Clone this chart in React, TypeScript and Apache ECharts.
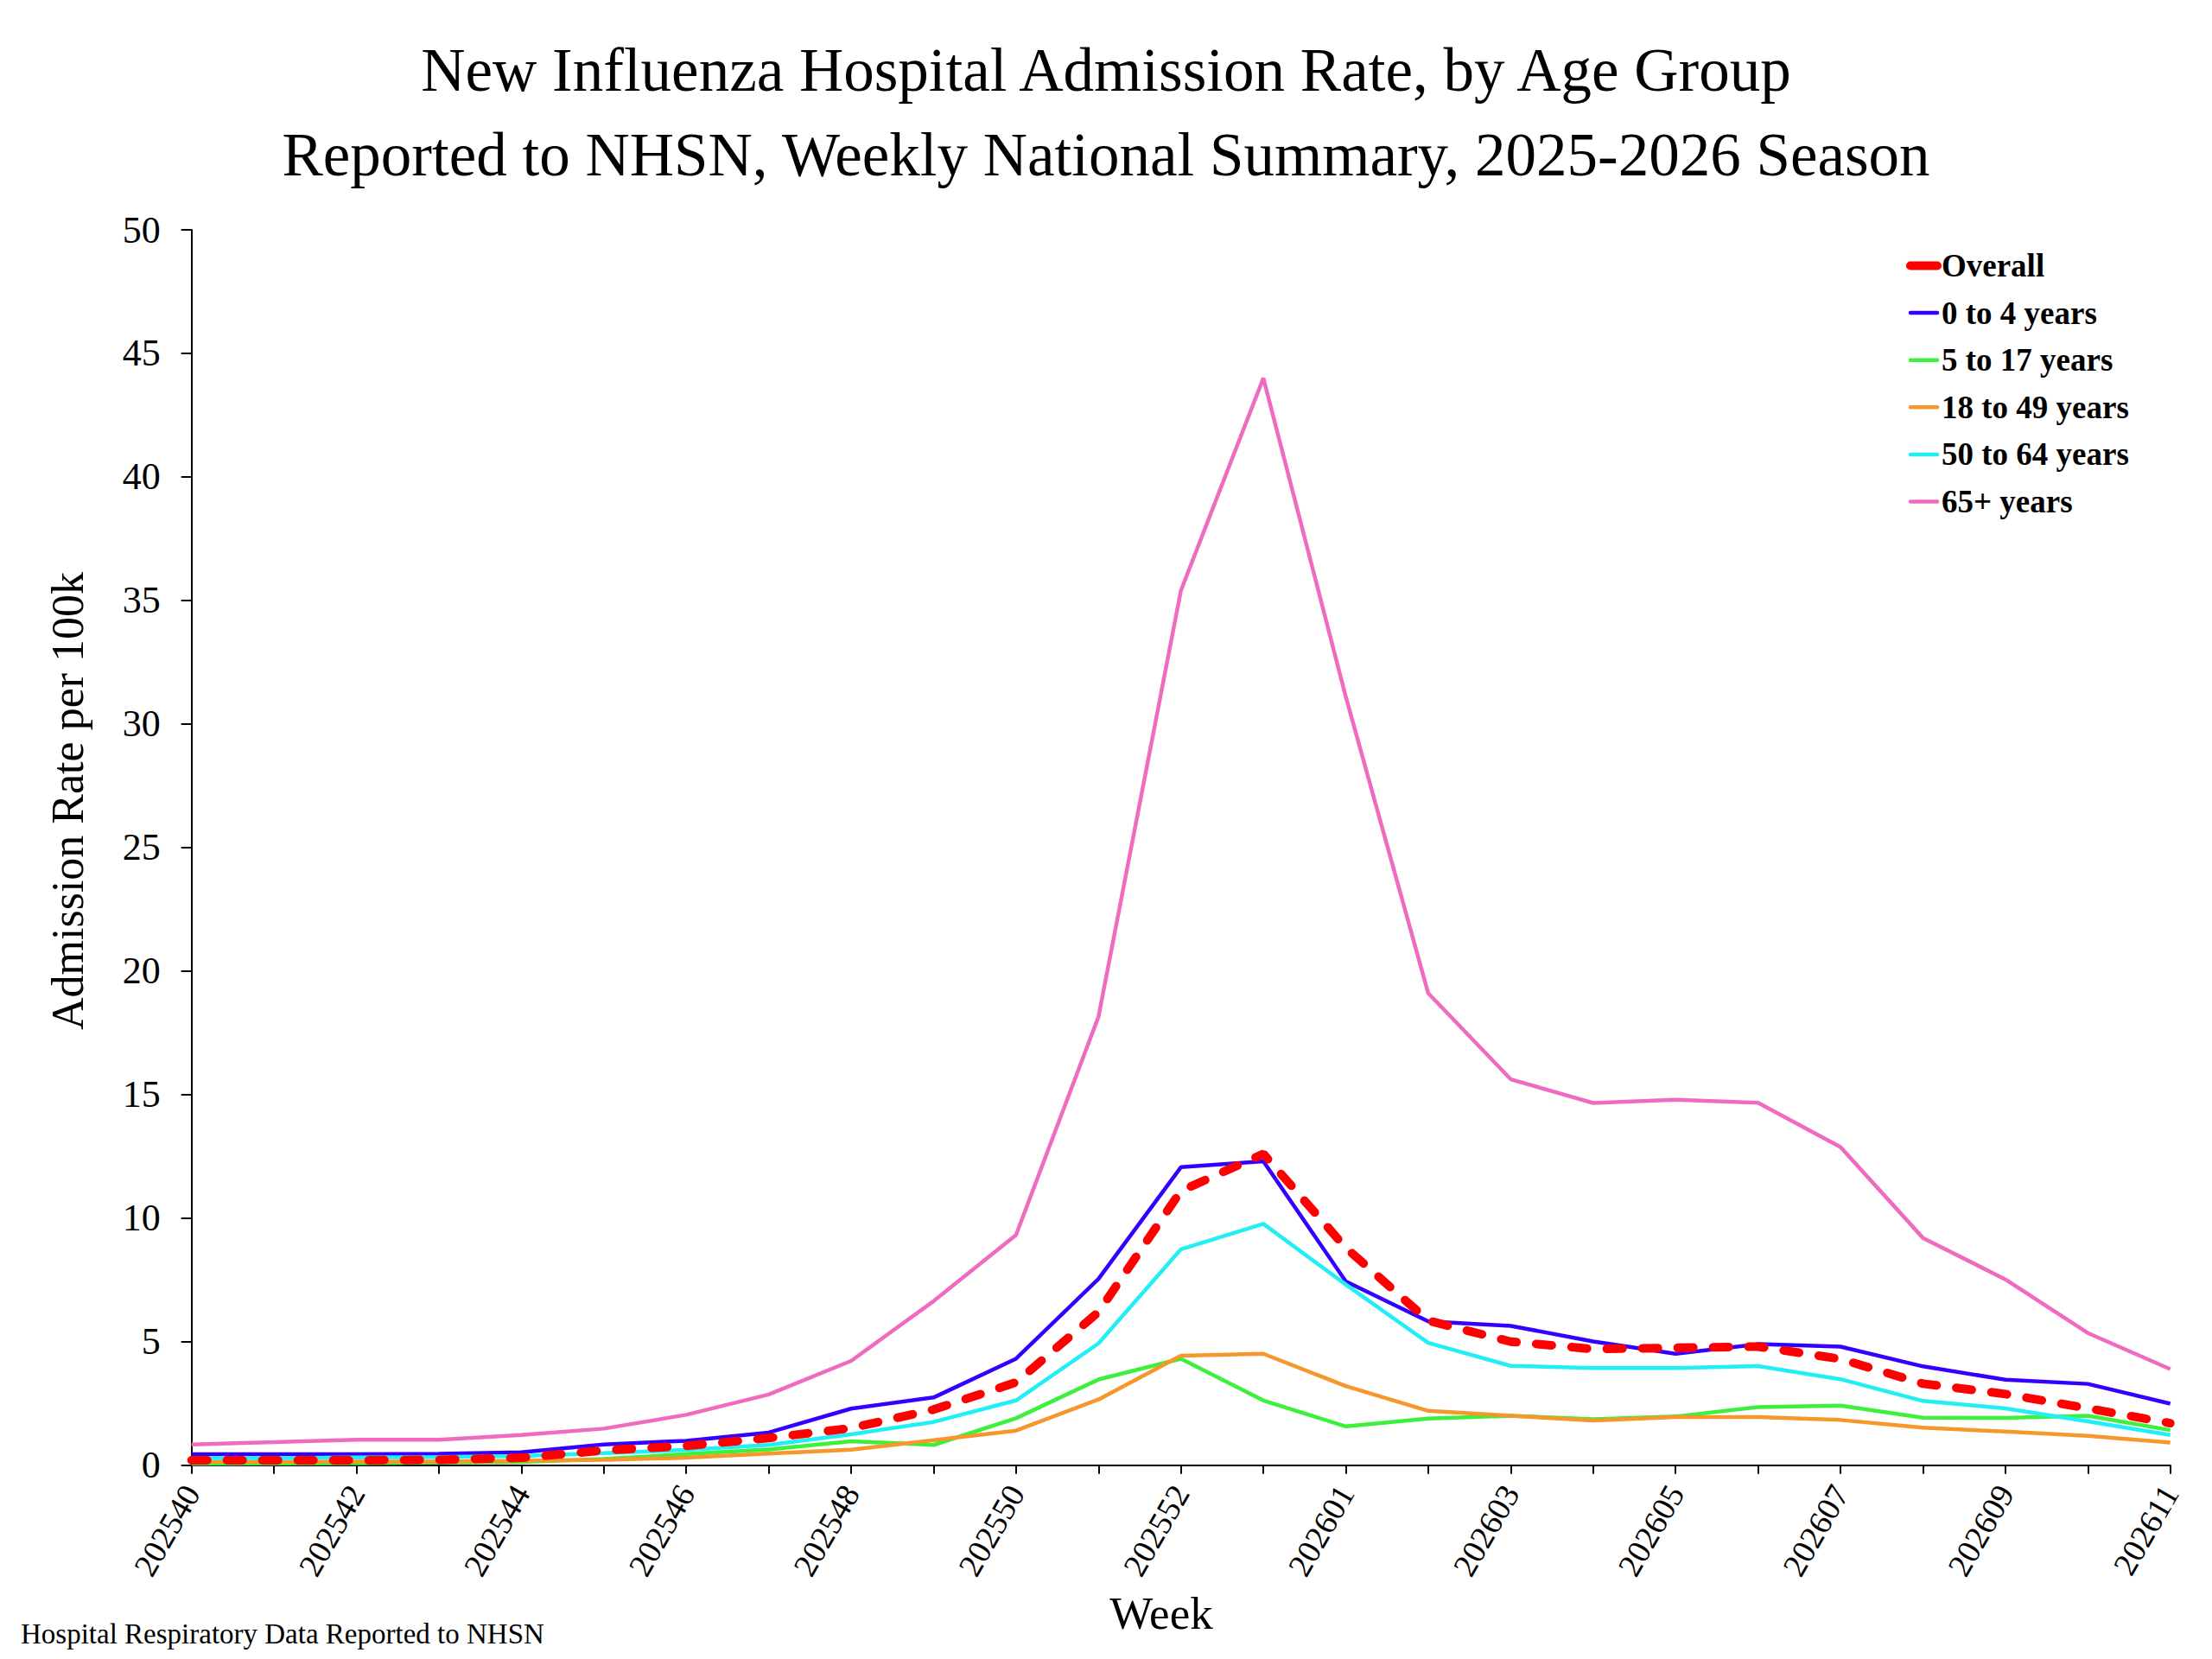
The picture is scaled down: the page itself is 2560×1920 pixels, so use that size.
import React, { useEffect, useRef } from 'react';
import * as echarts from 'echarts';

const weeks = [
  '202540', '202541', '202542', '202543', '202544', '202545', '202546', '202547', '202548', '202549',
  '202550', '202551', '202552', '202553', '202601', '202602', '202603', '202604', '202605', '202606',
  '202607', '202608', '202609', '202610', '202611',
];

const overall = [0.2, 0.2, 0.2, 0.22, 0.3, 0.6, 0.78, 1.1, 1.5, 2.25, 3.35, 6.2, 11.1, 12.6, 8.8, 5.85, 5.0, 4.7, 4.75, 4.8, 4.3, 3.3, 2.88, 2.3, 1.7];
const age0to4 = [0.44, 0.44, 0.44, 0.46, 0.52, 0.84, 0.99, 1.32, 2.29, 2.74, 4.31, 7.54, 12.06, 12.3, 7.44, 5.82, 5.64, 5.01, 4.51, 4.9, 4.8, 4.0, 3.46, 3.29, 2.49];
const age5to17 = [0.06, 0.07, 0.08, 0.1, 0.13, 0.25, 0.45, 0.64, 0.97, 0.82, 1.9, 3.47, 4.31, 2.62, 1.57, 1.89, 2.0, 1.86, 1.97, 2.35, 2.41, 1.92, 1.91, 2.0, 1.42];
const age18to49 = [0.14, 0.14, 0.15, 0.15, 0.18, 0.22, 0.3, 0.47, 0.63, 1.01, 1.4, 2.66, 4.43, 4.51, 3.2, 2.2, 2.0, 1.81, 1.95, 1.95, 1.83, 1.52, 1.36, 1.19, 0.92];
const age50to64 = [0.29, 0.29, 0.31, 0.33, 0.37, 0.49, 0.62, 0.82, 1.25, 1.75, 2.62, 4.93, 8.74, 9.77, 7.31, 4.95, 4.02, 3.93, 3.93, 4.01, 3.48, 2.6, 2.3, 1.77, 1.22];
const age65plus = [0.84, 0.93, 1.03, 1.03, 1.22, 1.48, 2.04, 2.86, 4.22, 6.64, 9.32, 18.15, 35.4, 44.0, 31.1, 19.1, 15.62, 14.66, 14.79, 14.67, 12.88, 9.2, 7.52, 5.35, 3.89];

const seriesNames = ['Overall', '0 to 4 years', '5 to 17 years', '18 to 49 years', '50 to 64 years', '65+ years'];
const seriesColors = ['#FF0000', '#3300FF', '#3CF03C', '#F7962A', '#22EEF5', '#EF6BC0'];

const titleText = 'New Influenza Hospital Admission Rate, by Age Group\nReported to NHSN, Weekly National Summary, 2025-2026 Season';
const yAxisName = 'Admission Rate per 100k';
const xAxisName = 'Week';
const footnote = 'Hospital Respiratory Data Reported to NHSN';

export default function App() {
  const ref = useRef<HTMLDivElement>(null);

  useEffect(() => {
    document.body.style.margin = '0';
    if (!ref.current) return;
    const chart = echarts.init(ref.current, null, { renderer: 'svg', width: 2560, height: 1920 });
    const font = '"Liberation Serif", "Times New Roman", serif';
    const values = [overall, age0to4, age5to17, age18to49, age50to64, age65plus];

    const series = values.map((d, i) => ({
      name: seriesNames[i],
      type: 'line',
      data: d,
      symbol: 'none',
      showSymbol: false,
      z: i === 0 ? 4 : 3,
      color: seriesColors[i],
      lineStyle: i === 0
        ? { color: seriesColors[i], width: 10, type: [18, 23], cap: 'round' }
        : { color: seriesColors[i], width: 4.5 },
    }));

    chart.setOption({
      animation: false,
      backgroundColor: '#ffffff',
      textStyle: { fontFamily: font },
      title: {
        text: titleText,
        left: 'center',
        top: 27,
        textStyle: { fontSize: 71, fontWeight: 'normal', lineHeight: 98, color: '#000', fontFamily: font },
      },
      legend: {
        orient: 'vertical',
        left: 2201,
        top: 284,
        itemWidth: 31,
        itemHeight: 14,
        itemGap: 17.6,
        itemStyle: { opacity: 0 },
        textStyle: { fontSize: 37, fontWeight: 'bold', color: '#000', fontFamily: font },
        data: seriesNames.map((n, i) => ({
          name: n,
          itemStyle: { opacity: 0 },
          lineStyle: { color: seriesColors[i], width: i === 0 ? 10 : 4.5, type: 'solid', cap: 'round' },
        })),
      },
      grid: { left: 221.7, right: 48.3, top: 266, bottom: 224.3, containLabel: false, outerBoundsMode: 'none' },
      xAxis: {
        type: 'category',
        data: weeks,
        boundaryGap: false,
        axisLine: { show: true, lineStyle: { color: '#000', width: 2 } },
        axisTick: { show: true, interval: 0, length: 10, lineStyle: { color: '#000', width: 2 } },
        axisLabel: { interval: 1, rotate: 60, margin: 26, fontSize: 38, color: '#000', fontFamily: font },
        splitLine: { show: false },
      },
      yAxis: {
        type: 'value',
        min: 0,
        max: 50,
        interval: 5,
        axisLine: { show: true, lineStyle: { color: '#000', width: 2 } },
        axisTick: { show: true, length: 12, lineStyle: { color: '#000', width: 2 } },
        axisLabel: { margin: 36, fontSize: 44, color: '#000', fontFamily: font },
        splitLine: { show: false },
      },
      graphic: [
        {
          type: 'text',
          x: 78,
          y: 927,
          rotation: Math.PI / 2,
          style: { text: yAxisName, fontSize: 52, fontFamily: font, fill: '#000', textAlign: 'center', textVerticalAlign: 'middle' },
        },
        {
          type: 'text',
          x: 1344,
          y: 1867,
          style: { text: xAxisName, fontSize: 53, fontFamily: font, fill: '#000', textAlign: 'center', textVerticalAlign: 'middle' },
        },
        {
          type: 'text',
          x: 24,
          y: 1891,
          style: { text: footnote, fontSize: 33, fontFamily: font, fill: '#000', textAlign: 'left', textVerticalAlign: 'middle' },
        },
      ],
      series,
    });

    return () => chart.dispose();
  }, []);

  return <div ref={ref} style={{ width: 2560, height: 1920 }} />;
}
